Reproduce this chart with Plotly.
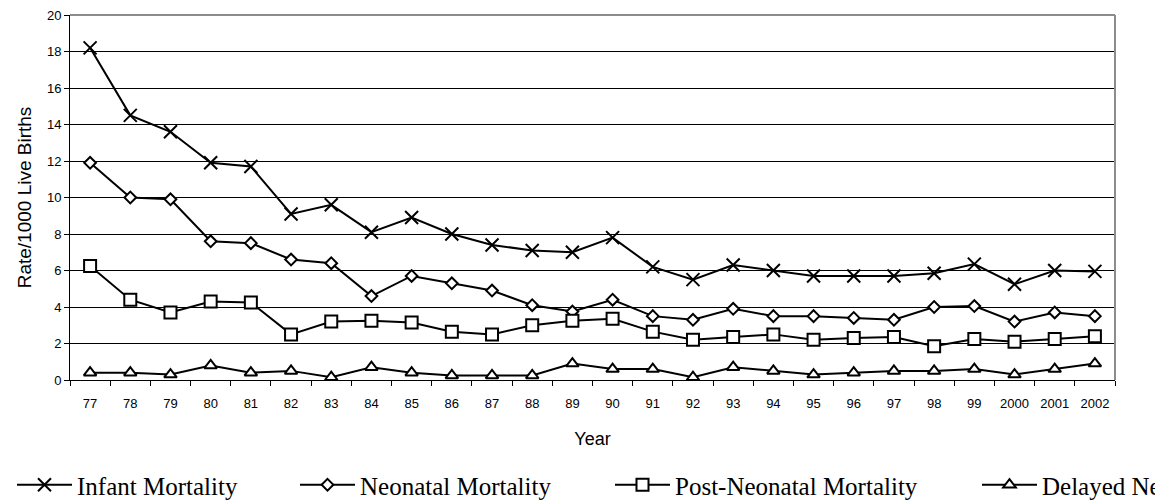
import plotly.graph_objects as go

years = ["77", "78", "79", "80", "81", "82", "83", "84", "85", "86", "87", "88", "89",
         "90", "91", "92", "93", "94", "95", "96", "97", "98", "99", "2000", "2001", "2002"]

infant = [18.2, 14.5, 13.6, 11.9, 11.7, 9.1, 9.6, 8.1, 8.9, 8.0, 7.4, 7.1, 7.0,
          7.8, 6.2, 5.5, 6.3, 6.0, 5.7, 5.7, 5.7, 5.85, 6.35, 5.25, 6.0, 5.95]
neonatal = [11.9, 10.0, 9.9, 7.6, 7.5, 6.6, 6.4, 4.6, 5.7, 5.3, 4.9, 4.1, 3.75,
            4.4, 3.5, 3.3, 3.9, 3.5, 3.5, 3.4, 3.3, 4.0, 4.05, 3.2, 3.7, 3.5]
post_neonatal = [6.25, 4.4, 3.7, 4.3, 4.25, 2.5, 3.2, 3.25, 3.15, 2.65, 2.5, 3.0, 3.25,
                 3.35, 2.65, 2.2, 2.35, 2.5, 2.2, 2.3, 2.35, 1.85, 2.25, 2.1, 2.25, 2.4]
delayed = [0.4, 0.4, 0.3, 0.8, 0.4, 0.5, 0.15, 0.7, 0.4, 0.25, 0.25, 0.25, 0.9,
           0.6, 0.6, 0.15, 0.7, 0.5, 0.3, 0.4, 0.5, 0.5, 0.6, 0.3, 0.6, 0.9]

series_names = ["Infant Mortality", "Neonatal Mortality", "Post-Neonatal Mortality",
                "Delayed Neonatal Mortality"]
y_ticks = list(range(0, 21, 2))

W, H = 1155, 501
L, R, T, B = 70, 40, 15, 121
pw = W - L - R
ph = H - T - B

def px_x(px):
    return (px - L) / pw

def px_y(py):
    return (H - B - py) / ph

fig = go.Figure()
styles = [
    dict(symbol="x-thin", size=13, color="black", line=dict(color="black", width=2)),
    dict(symbol="diamond", size=9, color="white", line=dict(color="black", width=2)),
    dict(symbol="square", size=12, color="white", line=dict(color="black", width=2)),
    dict(symbol="triangle-up", size=11, color="white", line=dict(color="black", width=2)),
]
data = [infant, neonatal, post_neonatal, delayed]
legend_ids = ["legend", "legend2", "legend3", "legend4"]
for name, vals, st, lg in zip(series_names, data, styles, legend_ids):
    fig.add_trace(go.Scatter(
        x=years, y=vals, name=name, mode="lines+markers",
        line=dict(color="black", width=2),
        marker=st, cliponaxis=False, legend=lg,
    ))

legend_px = [12, 295, 610, 977]
leg_font = dict(family="Liberation Serif", size=25, color="black")
layout_legends = {}
for lg, lx in zip(legend_ids, legend_px):
    layout_legends[lg] = dict(
        x=px_x(lx), xanchor="left", y=px_y(485), yanchor="middle",
        orientation="h", font=leg_font, bgcolor="rgba(0,0,0,0)",
        itemwidth=55, borderwidth=0,
    )

fig.update_layout(
    width=W, height=H,
    margin=dict(l=L, r=R, t=T, b=B, autoexpand=False),
    paper_bgcolor="white", plot_bgcolor="white",
    font=dict(family="Liberation Sans", color="black"),
    showlegend=True,
    **layout_legends,
    xaxis=dict(
        type="category", range=[-0.5, len(years) - 0.5],
        tickmode="array", tickvals=years, ticktext=years,
        tickson="boundaries", ticks="outside", ticklen=5, tickcolor="black",
        showline=True, linecolor="black", linewidth=1,
        showgrid=False, zeroline=False,
        tickfont=dict(size=13, color="black"),
        ticklabelstandoff=11,
        title=dict(text="Year", font=dict(size=18, color="black"), standoff=22),
    ),
    yaxis=dict(
        range=[0, 20], tickvals=y_ticks,
        ticks="outside", ticklen=5, tickcolor="black",
        showline=True, linecolor="black", linewidth=1,
        showgrid=True, gridcolor="black", gridwidth=1,
        zeroline=False,
        tickfont=dict(size=13, color="black"),
        title=dict(text="Rate/1000 Live Births", font=dict(size=19, color="black"), standoff=10),
    ),
    shapes=[
        dict(type="line", xref="paper", yref="paper", x0=0, x1=1, y0=1, y1=1,
             line=dict(color="#8c8c8c", width=2)),
        dict(type="line", xref="paper", yref="paper", x0=1, x1=1, y0=0, y1=1,
             line=dict(color="#8c8c8c", width=2)),
    ],
)

fig.write_html("out.html")
